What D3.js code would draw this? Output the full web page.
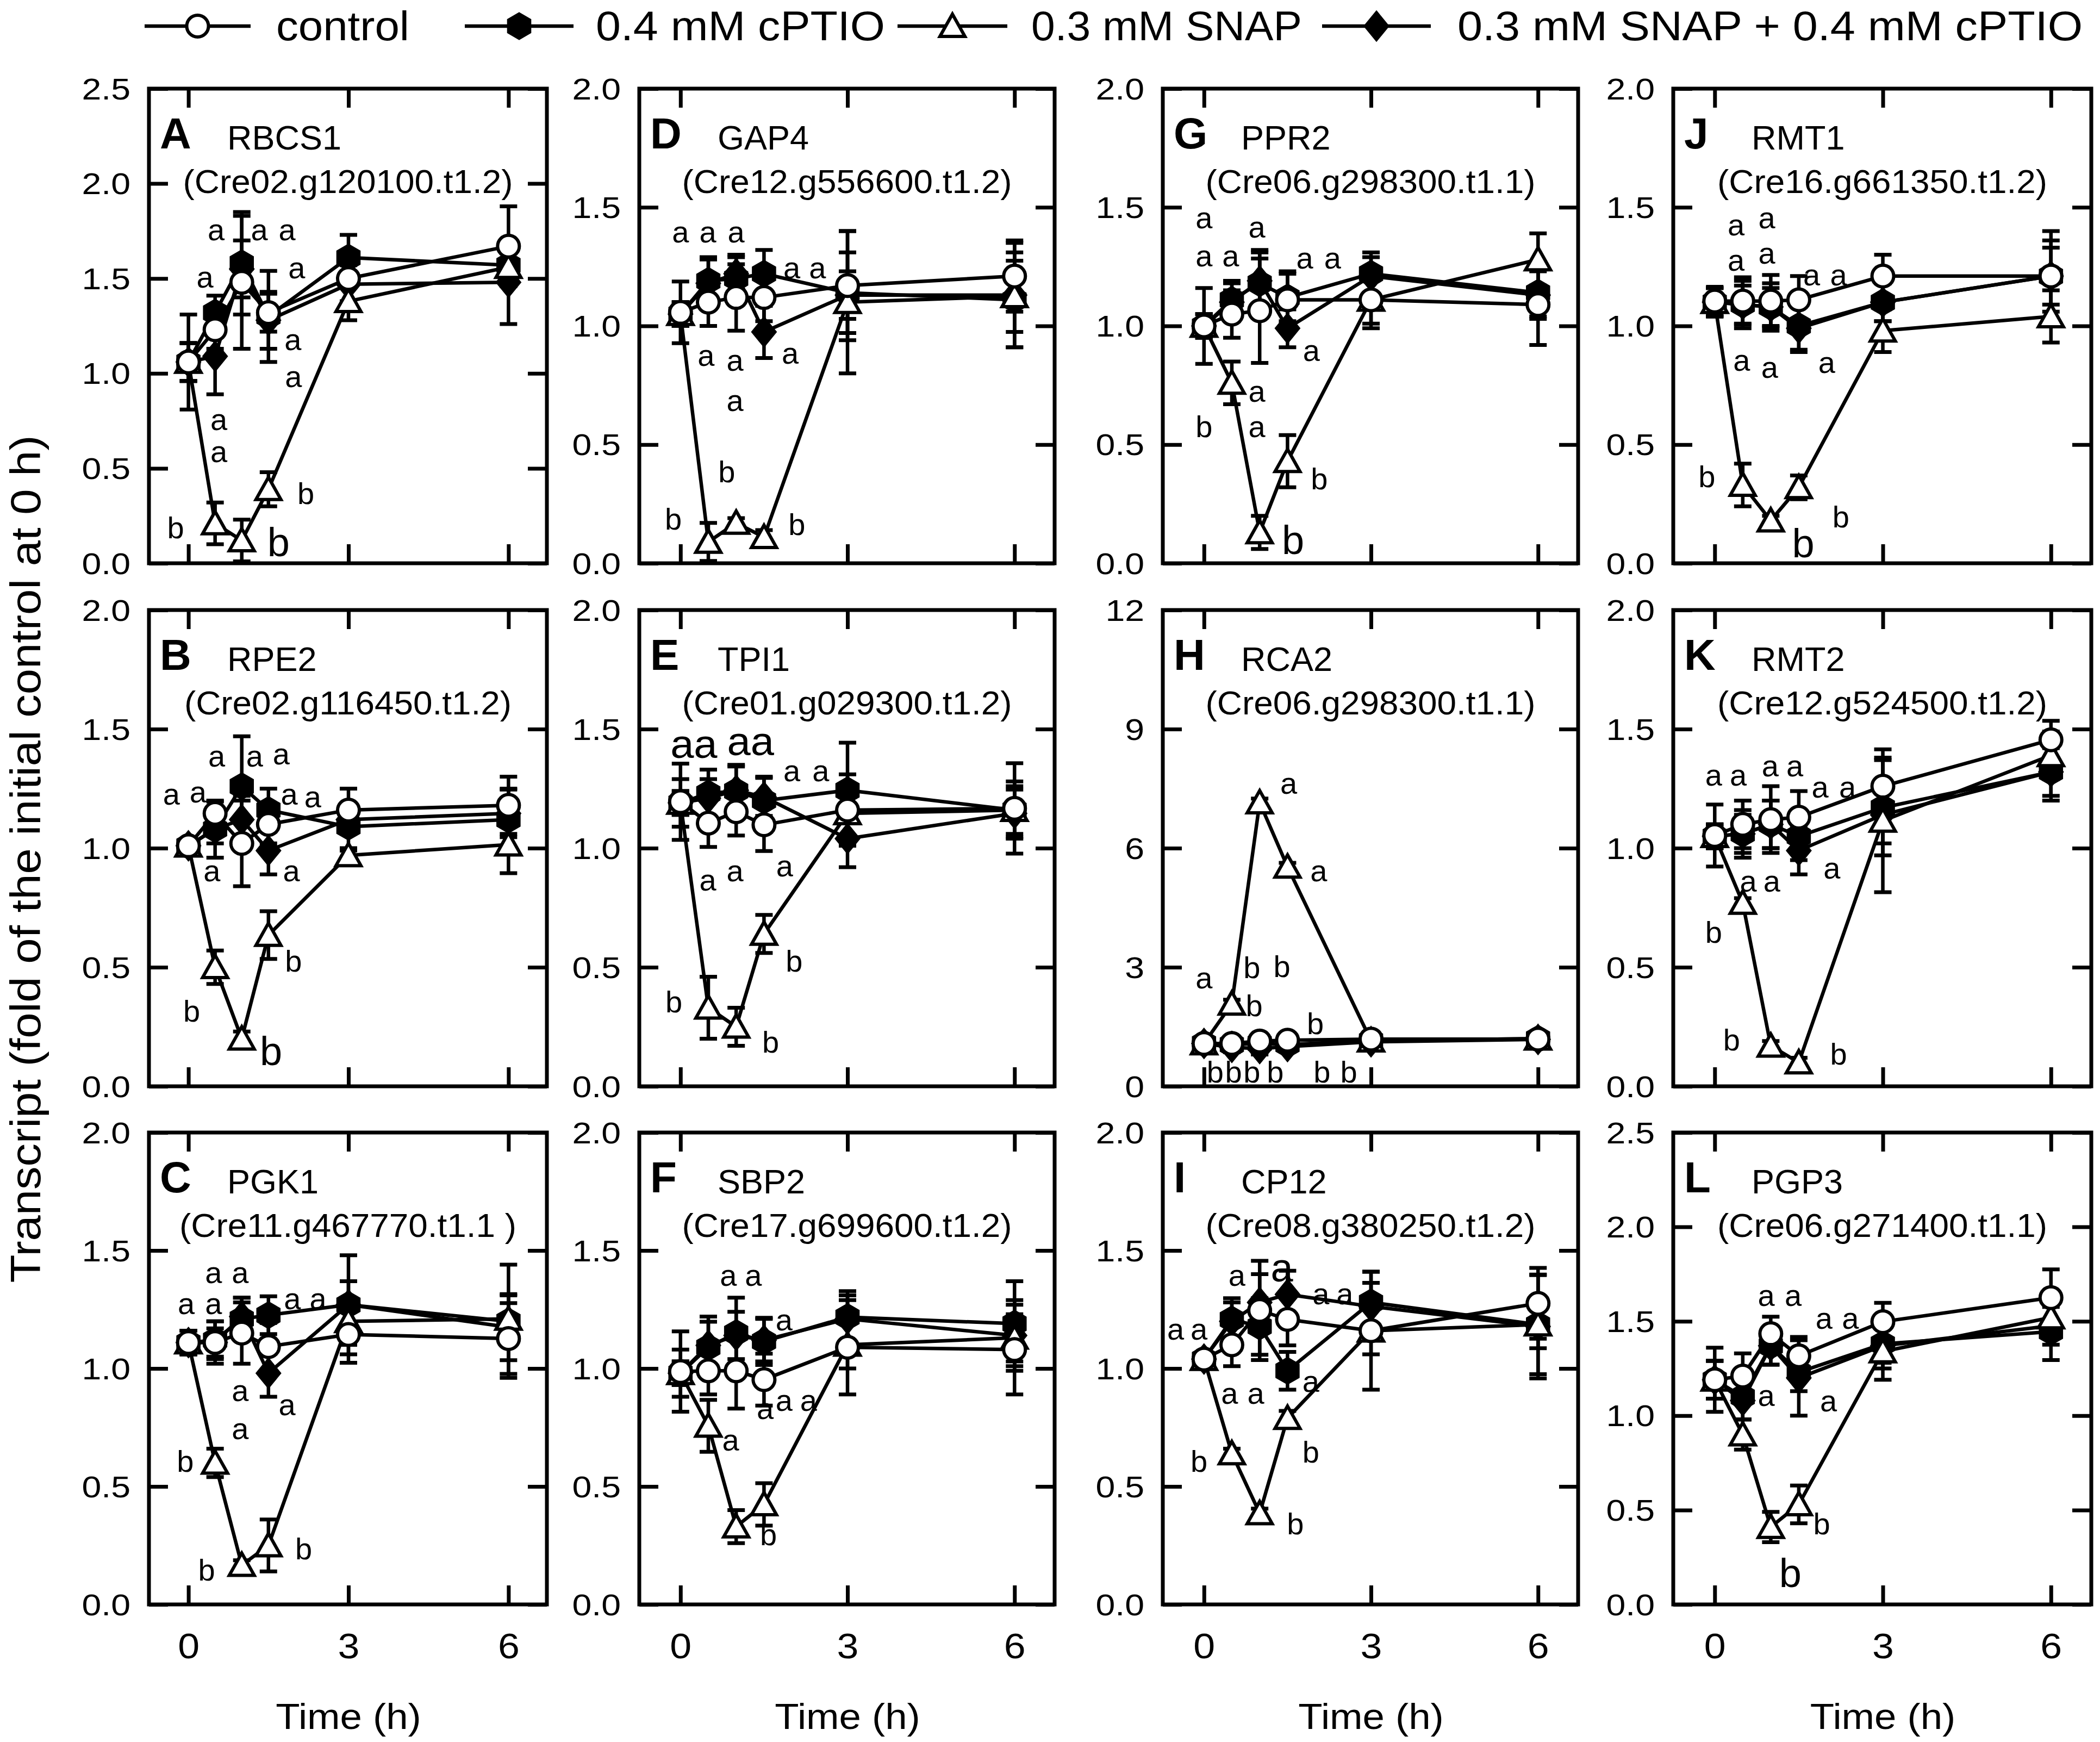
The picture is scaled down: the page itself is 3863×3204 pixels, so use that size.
<!DOCTYPE html>
<html><head><meta charset="utf-8">
<script src="https://cdn.jsdelivr.net/npm/d3@7"></script>
<style>body{margin:0;background:#fff} svg{display:block;font-family:"Liberation Sans",Arial,sans-serif}</style>
</head><body>
<svg id="chart" width="3863" height="3204"></svg>
<script>
// ---------------- data ----------------
const times = [0, 0.5, 1, 1.5, 3, 6];
const xTickValues = [0, 3, 6];
const seriesNames = ["control", "0.4 mM cPTIO", "0.3 mM SNAP", "0.3 mM SNAP + 0.4 mM cPTIO"];
const panelLetters = ["A","B","C","D","E","F","G","H","I","J","K","L"];
const geneNames = ["RBCS1","RPE2","PGK1","GAP4","TPI1","SBP2","PPR2","RCA2","CP12","RMT1","RMT2","PGP3"];
const geneIds = ["(Cre02.g120100.t1.2)","(Cre02.g116450.t1.2)","(Cre11.g467770.t1.1 )",
                 "(Cre12.g556600.t1.2)","(Cre01.g029300.t1.2)","(Cre17.g699600.t1.2)",
                 "(Cre06.g298300.t1.1)","(Cre06.g298300.t1.1)","(Cre08.g380250.t1.2)",
                 "(Cre16.g661350.t1.2)","(Cre12.g524500.t1.2)","(Cre06.g271400.t1.1)"];
const yMaxes = [2.5,2,2, 2,2,2, 2,12,2, 2,2,2.5];
const yTickSteps = [0.5,0.5,0.5, 0.5,0.5,0.5, 0.5,3,0.5, 0.5,0.5,0.5];

const controlMean = [
  [1.06,1.23,1.48,1.32,1.50,1.67],[1.01,1.146,1.02,1.10,1.16,1.18],[1.11,1.11,1.15,1.093,1.144,1.127],
  [1.057,1.10,1.12,1.12,1.17,1.21],[1.195,1.105,1.153,1.098,1.16,1.167],[0.987,0.99,0.99,0.953,1.09,1.08],
  [1.0,1.05,1.064,1.11,1.11,1.09],[1.08,1.08,1.14,1.16,1.19,1.19],[1.04,1.10,1.246,1.208,1.16,1.276],
  [1.105,1.105,1.105,1.11,1.21,1.21],[1.053,1.10,1.12,1.13,1.26,1.455],[1.19,1.21,1.434,1.317,1.498,1.625]];
const controlErr = [
  [0.25,0.1,0.35,0.1,0.12,0.21],[0.02,0.05,0.18,0.08,0.09,0.12],[0.05,0.09,0.13,0.1,0.12,0.15],
  [0.13,0.1,0.14,0.1,0.23,0.15],[0.16,0.1,0.1,0.11,0.15,0.19],[0.17,0.1,0.16,0.11,0.2,0.19],
  [0.16,0.1,0.22,0.12,0.12,0.17],[0.1,0.1,0.1,0.1,0.1,0.12],[0.02,0.09,0.21,0.11,0.25,0.15],
  [0.06,0.1,0.11,0.1,0.09,0.19],[0.13,0.1,0.14,0.11,0.12,0.08],[0.17,0.12,0.09,0.1,0.1,0.15]];
const cptioMean = [
  [1.06,1.32,1.58,1.30,1.61,1.57],[1.01,1.08,1.26,1.16,1.09,1.12],[1.11,1.12,1.21,1.226,1.27,1.20],
  [1.05,1.19,1.20,1.22,1.14,1.11],[1.19,1.23,1.24,1.20,1.243,1.16],[0.98,1.09,1.15,1.115,1.218,1.19],
  [1.0,1.11,1.18,1.12,1.22,1.14],[1.08,1.05,1.08,1.05,1.15,1.2],[1.04,1.208,1.178,0.99,1.28,1.186],
  [1.1,1.09,1.08,1.0,1.10,1.21],[1.05,1.06,1.10,1.05,1.17,1.32],[1.19,1.10,1.37,1.23,1.38,1.445]];
const cptioErr = [
  [0.1,0.09,0.27,0.24,0.12,0.1],[0.02,0.12,0.21,0.09,0.1,0.13],[0.05,0.08,0.09,0.08,0.21,0.24],
  [0.05,0.1,0.1,0.1,0.17,0.2],[0.1,0.1,0.11,0.1,0.2,0.12],[0.1,0.13,0.15,0.1,0.11,0.18],
  [0.05,0.08,0.14,0.1,0.09,0.1],[0.1,0.15,0.2,0.15,0.1,0.1],[0.02,0.09,0.12,0.08,0.13,0.21],
  [0.06,0.1,0.1,0.1,0.08,0.15],[0.05,0.1,0.1,0.1,0.2,0.12],[0.1,0.12,0.1,0.1,0.1,0.15]];
const snapMean = [
  [1.06,0.21,0.12,0.39,1.38,1.56],[1.01,0.50,0.20,0.635,0.97,1.015],[1.11,0.60,0.167,0.25,1.2,1.21],
  [1.05,0.09,0.17,0.11,1.10,1.125],[1.19,0.33,0.25,0.64,1.146,1.16],[0.98,0.757,0.33,0.424,1.10,1.13],
  [1.0,0.76,0.13,0.43,1.11,1.28],[1.08,2.08,7.15,5.53,1.15,1.2],[1.04,0.64,0.386,0.79,1.16,1.186],
  [1.1,0.33,0.18,0.32,0.98,1.04],[1.05,0.77,0.17,0.10,1.115,1.39],[1.19,0.90,0.41,0.53,1.34,1.52]];
const snapErr = [
  [0.1,0.11,0.11,0.09,0.1,0.1],[0.02,0.07,0.03,0.1,0.03,0.12],[0.05,0.06,0.02,0.11,0.1,0.1],
  [0.05,0.08,0.02,0.03,0.3,0.15],[0.05,0.13,0.08,0.08,0.1,0.1],[0.05,0.11,0.07,0.09,0.1,0.1],
  [0.05,0.09,0.07,0.11,0.1,0.11],[0.1,0.1,0.1,0.1,0.1,0.1],[0.02,0.02,0.02,0.03,0.1,0.1],
  [0.06,0.09,0.02,0.05,0.09,0.11],[0.05,0.02,0.02,0.02,0.3,0.1],[0.1,0.08,0.08,0.1,0.15,0.1]];
const comboMean = [
  [1.06,1.09,1.55,1.28,1.47,1.48],[1.01,1.08,1.12,0.99,1.12,1.146],[1.11,1.11,1.22,0.98,1.27,1.175],
  [1.05,1.18,1.22,0.975,1.13,1.13],[1.19,1.21,1.243,1.215,1.04,1.146],[0.98,1.098,1.14,1.12,1.21,1.14],
  [1.0,1.10,1.19,0.99,1.21,1.13],[1.08,0.98,0.95,1.0,1.12,1.18],[1.04,1.20,1.28,1.314,1.263,1.178],
  [1.1,1.09,1.08,0.99,1.10,1.21],[1.05,1.06,1.10,0.99,1.14,1.32],[1.19,1.08,1.37,1.20,1.37,1.476]];
const comboErr = [
  [0.1,0.2,0.15,0.15,0.1,0.22],[0.02,0.06,0.1,0.1,0.05,0.1],[0.05,0.06,0.08,0.1,0.1,0.14],
  [0.05,0.1,0.07,0.11,0.1,0.22],[0.05,0.08,0.1,0.08,0.12,0.1],[0.05,0.1,0.1,0.09,0.1,0.15],
  [0.05,0.08,0.12,0.08,0.08,0.1],[0.1,0.12,0.15,0.12,0.1,0.1],[0.02,0.08,0.12,0.1,0.1,0.22],
  [0.06,0.08,0.08,0.1,0.08,0.12],[0.05,0.08,0.1,0.1,0.12,0.1],[0.1,0.1,0.1,0.2,0.12,0.1]];

// significance letters: [time (h), value, text, large?]
const sigLetters = [
  [[0.52,1.75,"a"],[1.33,1.75,"a"],[1.85,1.75,"a"],[0.31,1.50,"a"],[2.03,1.55,"a"],[1.96,1.17,"a"],[1.97,0.975,"a"],[0.57,0.75,"a"],[0.57,0.58,"a"],[-0.24,0.18,"b"],[1.69,0.10,"b",1],[2.2,0.36,"b"]],
  [[0.53,1.38,"a"],[1.24,1.38,"a"],[1.74,1.39,"a"],[-0.32,1.22,"a"],[0.18,1.23,"a"],[1.89,1.22,"a"],[2.33,1.21,"a"],[0.44,0.90,"a"],[1.93,0.90,"a"],[0.06,0.31,"b"],[1.97,0.52,"b"],[1.55,0.14,"b",1]],
  [[0.47,1.40,"a"],[0.97,1.40,"a"],[-0.04,1.27,"a"],[0.47,1.27,"a"],[1.95,1.29,"a"],[2.43,1.29,"a"],[0.97,0.90,"a"],[1.85,0.84,"a"],[0.97,0.74,"a"],[-0.06,0.60,"b"],[0.34,0.14,"b"],[2.16,0.23,"b"]],
  [[0,1.39,"a"],[0.49,1.39,"a"],[1.0,1.39,"a"],[2.0,1.24,"a"],[2.46,1.24,"a"],[0.46,0.87,"a"],[0.98,0.85,"a"],[0.98,0.68,"a"],[1.97,0.88,"a"],[-0.13,0.18,"b"],[0.83,0.38,"b"],[2.09,0.157,"b"]],
  [[0.24,1.43,"aa",1],[1.26,1.44,"aa",1],[2.0,1.32,"a"],[2.52,1.32,"a"],[0.49,0.86,"a"],[0.98,0.90,"a"],[1.87,0.92,"a"],[-0.12,0.35,"b"],[1.62,0.18,"b"],[2.04,0.52,"b"]],
  [[0.86,1.39,"a"],[1.31,1.39,"a"],[1.86,1.20,"a"],[1.52,0.825,"a"],[1.86,0.86,"a"],[2.3,0.86,"a"],[0.9,0.69,"a"],[1.58,0.29,"b"]],
  [[0,1.45,"a"],[0,1.29,"a"],[0.48,1.29,"a"],[0.95,1.41,"a"],[1.81,1.28,"a"],[2.31,1.28,"a"],[1.93,0.89,"a"],[0.95,0.72,"a"],[0.95,0.57,"a"],[0,0.57,"b"],[2.07,0.35,"b"],[1.6,0.09,"b",1]],
  [[1.52,7.6,"a"],[2.06,5.4,"a"],[0,2.7,"a"],[0.86,2.95,"b"],[1.4,2.99,"b"],[0.9,2.0,"b"],[2.0,1.54,"b"],[0.2,0.33,"b"],[0.53,0.33,"b"],[0.86,0.33,"b"],[1.28,0.33,"b"],[2.12,0.33,"b"],[2.6,0.33,"b"]],
  [[-0.51,1.16,"a"],[-0.09,1.16,"a"],[0.59,1.39,"a"],[1.40,1.42,"a",1],[2.10,1.31,"a"],[2.53,1.31,"a"],[0.46,0.89,"a"],[0.93,0.89,"a"],[1.92,0.94,"a"],[-0.09,0.60,"b"],[1.92,0.64,"b"],[1.64,0.335,"b"]],
  [[0.38,1.42,"a"],[0.93,1.45,"a"],[0.38,1.27,"a"],[0.93,1.30,"a"],[1.73,1.21,"a"],[2.21,1.21,"a"],[0.48,0.85,"a"],[0.98,0.82,"a"],[2.0,0.84,"a"],[-0.14,0.36,"b"],[2.25,0.19,"b"],[1.58,0.075,"b",1]],
  [[-0.02,1.30,"a"],[0.42,1.30,"a"],[0.99,1.34,"a"],[1.43,1.34,"a"],[1.88,1.25,"a"],[2.37,1.25,"a"],[0.6,0.855,"a"],[1.02,0.855,"a"],[2.09,0.91,"a"],[-0.02,0.64,"b"],[0.3,0.19,"b"],[2.21,0.13,"b"]],
  [[0.92,1.63,"a"],[1.4,1.63,"a"],[1.95,1.51,"a"],[2.42,1.51,"a"],[0.92,1.10,"a"],[2.03,1.07,"a"],[1.91,0.42,"b"],[1.35,0.157,"b",1]]
];

const xLabel = "Time (h)";
const yLabel = "Transcript (fold of the initial control at 0 h)";

// ---------------- layout ----------------
const colLeft = [274, 1176, 2139, 3078];
const colRight = [1006, 1940, 2903, 3847];
const rowTop = [163, 1122, 2083];
const rowBottom = [1036, 1998, 2951];
const xDomain = [-0.74, 6.72];

const svg = d3.select("#chart");
svg.append("rect").attr("width",3863).attr("height",3204).attr("fill","#fff");

function stext(sel, x, y, str, size, sx, anchor, weight) {
  return sel.append("text")
    .attr("transform", `translate(${x},${y}) scale(${sx},1)`)
    .attr("text-anchor", anchor || "start")
    .attr("font-size", size)
    .attr("font-weight", weight || "normal")
    .attr("fill", "#000")
    .text(str);
}

// marker drawing
function drawMarker(sel, kind, x, y) {
  if (kind === 0) {
    sel.append("circle").attr("cx", x).attr("cy", y).attr("r", 20)
      .attr("fill", "#fff").attr("stroke", "#000").attr("stroke-width", 6);
  } else if (kind === 1) {
    const r = 24;
    const pts = d3.range(6).map(k => { const a = (-90 + k*60) * Math.PI/180; return [x + r*Math.cos(a), y + r*Math.sin(a)]; });
    sel.append("path").attr("d", "M" + pts.join("L") + "Z").attr("fill", "#000").attr("stroke", "#000").attr("stroke-width", 3);
  } else if (kind === 2) {
    sel.append("path").attr("d", `M${x},${y-22}L${x+23},${y+19}L${x-23},${y+19}Z`)
      .attr("fill", "#fff").attr("stroke", "#000").attr("stroke-width", 6).attr("stroke-linejoin","miter");
  } else {
    sel.append("path").attr("d", `M${x},${y-27}L${x+22},${y}L${x},${y+27}L${x-22},${y}Z`)
      .attr("fill", "#000").attr("stroke", "#000").attr("stroke-width", 3);
  }
}

const meansBySeries = [controlMean, cptioMean, snapMean, comboMean];
const errsBySeries = [controlErr, cptioErr, snapErr, comboErr];
const drawOrder = [3, 1, 2, 0];

panelLetters.forEach((letter, p) => {
  const col = Math.floor(p / 3), row = p % 3;
  const L = colLeft[col], R = colRight[col], T = rowTop[row], B = rowBottom[row];
  const x = d3.scaleLinear().domain(xDomain).range([L, R]);
  const y = d3.scaleLinear().domain([0, yMaxes[p]]).range([B, T]);
  const g = svg.append("g");
  const yTicks = d3.range(0, yMaxes[p] + 1e-9, yTickSteps[p]);
  const fmt = yTickSteps[p] >= 1 ? d3.format("d") : d3.format(".1f");

  // axes (ticks inward on all four sides)
  const axL = g.append("g").attr("transform", `translate(${L},0)`)
    .call(d3.axisLeft(y).tickValues(yTicks).tickFormat(fmt).tickSizeInner(-35).tickSizeOuter(0).tickPadding(0));
  axL.selectAll("text").attr("x", null).attr("dy", null)
    .attr("transform", "translate(-34,19) scale(1.15,1)")
    .attr("font-size", 56).attr("font-family", "Liberation Sans, Arial, sans-serif").attr("fill","#000");
  const axR = g.append("g").attr("transform", `translate(${R},0)`)
    .call(d3.axisRight(y).tickValues(yTicks).tickSizeInner(-35).tickSizeOuter(0));
  axR.selectAll("text").remove();
  const axT = g.append("g").attr("transform", `translate(0,${T})`)
    .call(d3.axisTop(x).tickValues(xTickValues).tickSizeInner(-35).tickSizeOuter(0));
  axT.selectAll("text").remove();
  const axB = g.append("g").attr("transform", `translate(0,${B})`)
    .call(d3.axisBottom(x).tickValues(xTickValues).tickFormat(d3.format("d")).tickSizeInner(-35).tickSizeOuter(0).tickPadding(0));
  if (row === 2) {
    axB.selectAll("text").attr("y", null).attr("dy", null)
      .attr("transform", "translate(0,99) scale(1.12,1)")
      .attr("font-size", 64).attr("font-family", "Liberation Sans, Arial, sans-serif").attr("fill","#000");
  } else {
    axB.selectAll("text").remove();
  }
  g.selectAll(".domain").remove();
  g.selectAll(".tick line").attr("stroke", "#000").attr("stroke-width", 7);

  // frame
  g.append("rect").attr("x", L).attr("y", T).attr("width", R - L).attr("height", B - T)
    .attr("fill", "none").attr("stroke", "#000").attr("stroke-width", 7);

  // titles
  stext(g, L + 20, T + 110, letter, 80, 1.0, "start", "bold");
  stext(g, L + 144, T + 112, geneNames[p], 63, 1.0);
  stext(g, (L + R) / 2, T + 192, geneIds[p], 62, 1.03, "middle");

  // lines
  const line = d3.line().x((d, i) => x(times[i])).y(d => y(d));
  drawOrder.forEach(s => {
    g.append("path").attr("d", line(meansBySeries[s][p]))
      .attr("fill", "none").attr("stroke", "#000").attr("stroke-width", 6.5).attr("stroke-linejoin", "round");
  });
  // error bars
  drawOrder.forEach(s => {
    meansBySeries[s][p].forEach((m, i) => {
      const e = errsBySeries[s][p][i];
      const cx = x(times[i]), y1 = y(m - e), y2 = y(m + e);
      g.append("line").attr("x1", cx).attr("x2", cx).attr("y1", y1).attr("y2", y2)
        .attr("stroke", "#000").attr("stroke-width", 6.5);
      [y1, y2].forEach(yy => g.append("line").attr("x1", cx - 16).attr("x2", cx + 16).attr("y1", yy).attr("y2", yy)
        .attr("stroke", "#000").attr("stroke-width", 7));
    });
  });
  // markers
  drawOrder.forEach(s => {
    meansBySeries[s][p].forEach((m, i) => drawMarker(g, s, x(times[i]), y(m)));
  });
  // significance letters
  sigLetters[p].forEach(([t, v, txt, big]) => {
    const fs = big ? 74 : 56;
    stext(g, x(t), y(v) + fs * 0.3, txt, fs, big && txt === "aa" ? 1.05 : 1.0, "middle");
  });
});

// y-axis title
svg.append("text")
  .attr("transform", "translate(74,1580) rotate(-90)")
  .attr("text-anchor", "middle").attr("font-size", 78)
  .attr("textLength", 1559).attr("lengthAdjust", "spacingAndGlyphs")
  .text(yLabel);

// x-axis titles
colLeft.forEach((L, c) => {
  const x = d3.scaleLinear().domain(xDomain).range([L, colRight[c]]);
  stext(svg, x(3), 3180, xLabel, 66, 1.1, "middle");
});

// legend
const legendLineX = [[266, 461], [855, 1055], [1651, 1853], [2432, 2632]];
const legendTextX = [[508, 753], [1096, 1628], [1897, 2395], [2681, 3831]];
const lg = svg.append("g");
seriesNames.forEach((name, s) => {
  const [a, b] = legendLineX[s];
  lg.append("line").attr("x1", a).attr("x2", b).attr("y1", 48).attr("y2", 48)
    .attr("stroke", "#000").attr("stroke-width", 6.5);
  drawMarker(lg, s, (a + b) / 2, 48);
  const [ta, tb] = legendTextX[s];
  lg.append("text").attr("x", ta).attr("y", 74).attr("font-size", 76)
    .attr("textLength", tb - ta).attr("lengthAdjust", "spacingAndGlyphs").text(name);
});
</script>
</body></html>
